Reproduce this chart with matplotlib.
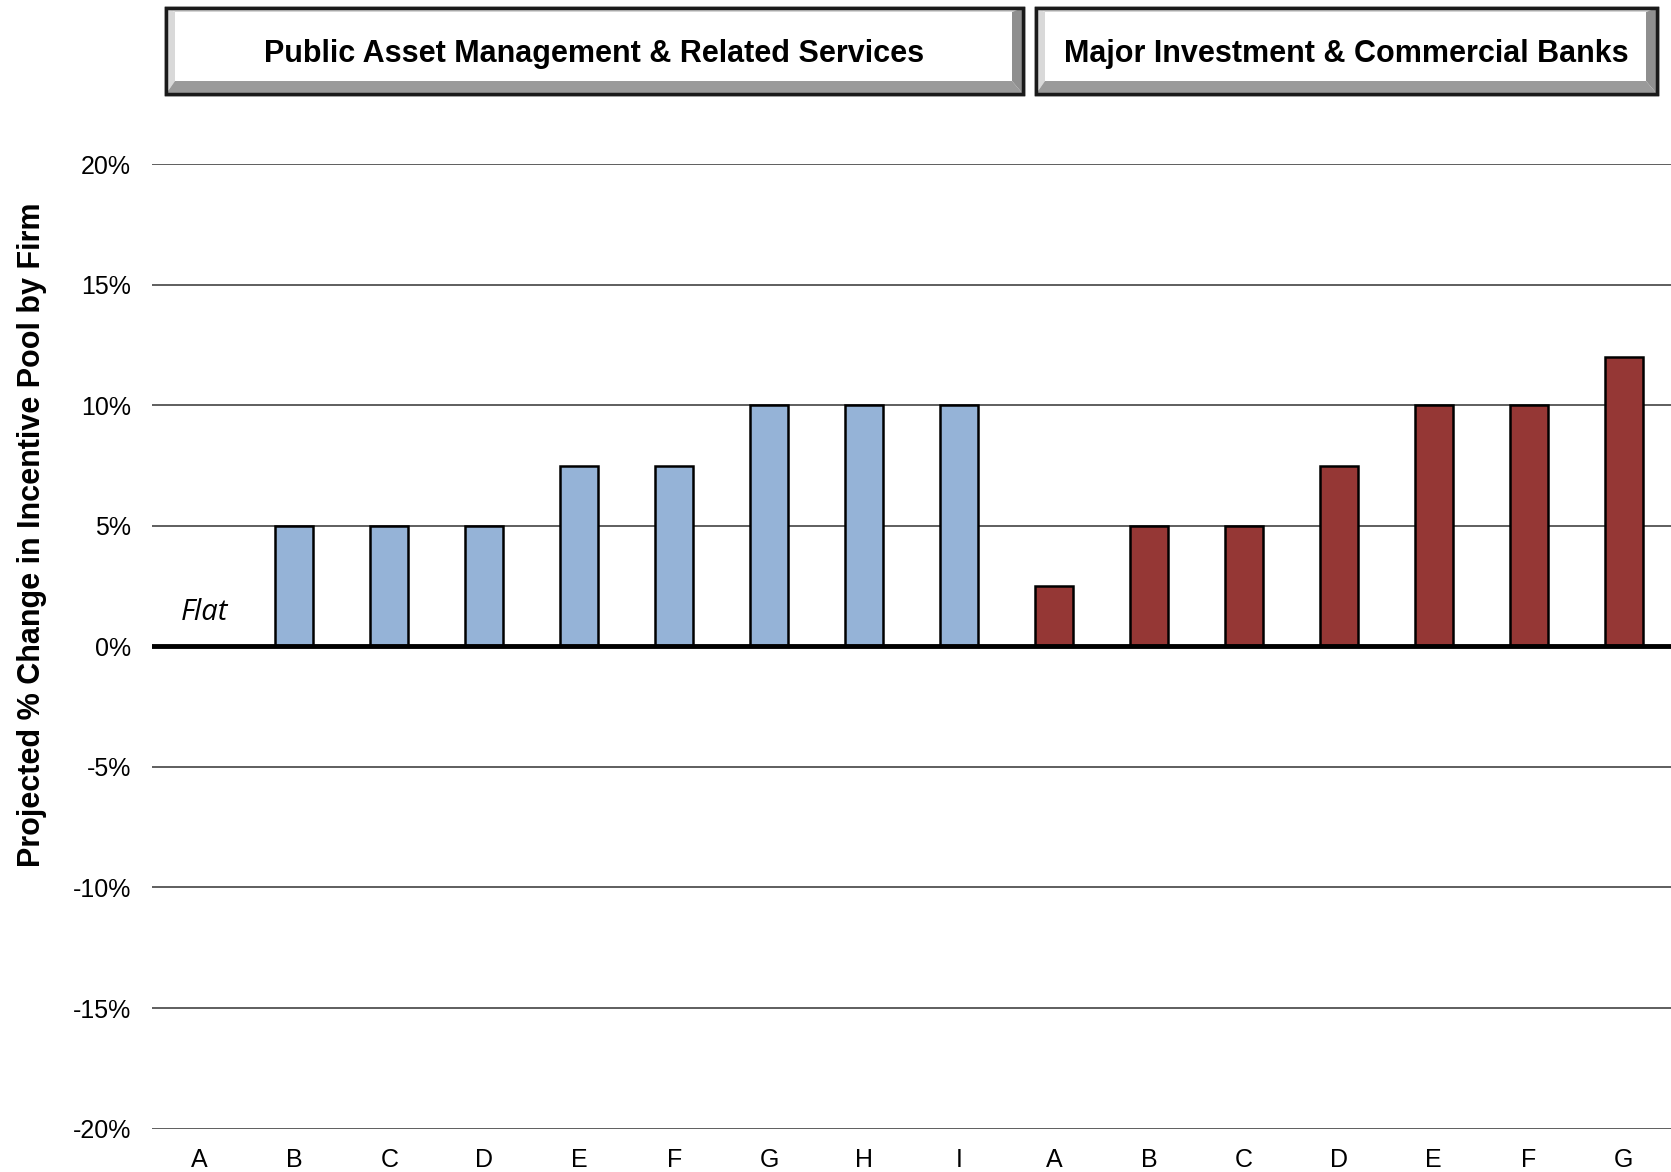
import numpy as np
import matplotlib
matplotlib.use('Agg')
import matplotlib.pyplot as plt
from matplotlib.patches import Polygon

plt.rcParams['font.family'] = ['Liberation Sans', 'DejaVu Sans']

# data
pub_labels = ['A', 'B', 'C', 'D', 'E', 'F', 'G', 'H', 'I']
pub_values = [0, 5, 5, 5, 7.5, 7.5, 10, 10, 10]
bank_labels = ['A', 'B', 'C', 'D', 'E', 'F', 'G']
bank_values = [2.5, 5, 5, 7.5, 10, 10, 12]
group_titles = ['Public Asset Management & Related Services', 'Major Investment & Commercial Banks']
yticks = [-20, -15, -10, -5, 0, 5, 10, 15, 20]

blue = '#95B3D7'
red = '#953735'

W, H = 1671, 1172
fig = plt.figure(figsize=(W / 100, H / 100), dpi=100)
ax = fig.add_axes([0.091, 0.037, 0.909, 0.823])

x_pub = np.arange(len(pub_labels))
x_bank = np.arange(len(bank_labels)) + len(pub_labels)

ax.bar(x_pub[1:], pub_values[1:], width=0.4, color=blue, edgecolor='black', linewidth=1.8, zorder=3)
ax.bar(x_bank, bank_values, width=0.4, color=red, edgecolor='black', linewidth=1.8, zorder=3)

ax.text(x_pub[0] + 0.05, 1.42, 'Flat', fontsize=21, style='italic', family=['Open Sans', 'DejaVu Sans'],
        ha='center', va='center')

ax.set_xlim(-0.5, len(pub_labels) + len(bank_labels) - 0.5)
ax.set_ylim(-20, 20)
ax.set_yticks(yticks)
ax.set_yticklabels([f'{v}%' for v in yticks], fontsize=18)
for v in yticks:
    if v != 0:
        ax.axhline(v, color='#333333', linewidth=1.1, zorder=1)
ax.axhline(0, color='black', linewidth=3.5, zorder=4)

ax.set_xticks(np.concatenate([x_pub, x_bank]))
ax.set_xticklabels(pub_labels + bank_labels, fontsize=18)
ax.tick_params(length=0)
ax.tick_params(axis='x', pad=14)
ax.tick_params(axis='y', pad=15)
for s in ax.spines.values():
    s.set_visible(False)

# y label sits higher than the axes centre in the original
fig.text(32 / W, 1 - 535 / H, 'Projected % Change in Incentive Pool by Firm', fontsize=22,
         fontweight='bold', rotation=90, ha='center', va='center')


def px(x, y):
    return (x / W, 1 - y / H)


def header_box(x0, y0, x1, y1, title):
    # bevelled button-like box, pixel coords from the top-left
    bl, bt, br, bb = 9, 4, 11, 13
    outer = [px(x0, y0), px(x1, y0), px(x1, y1), px(x0, y1)]
    fig.patches.append(Polygon(outer, closed=True, transform=fig.transFigure,
                               facecolor='white', edgecolor='#1a1a1a', linewidth=2.5, zorder=1))
    ix0, iy0, ix1, iy1 = x0 + bl, y0 + bt, x1 - br, y1 - bb
    sides = [
        ([px(x0, y0), px(x1, y0), px(ix1, iy0), px(ix0, iy0)], '#d4d4d4'),   # top
        ([px(x0, y0), px(ix0, iy0), px(ix0, iy1), px(x0, y1)], '#d9d9d9'),   # left
        ([px(x1, y0), px(x1, y1), px(ix1, iy1), px(ix1, iy0)], '#8f8f8f'),   # right
        ([px(x0, y1), px(ix0, iy1), px(ix1, iy1), px(x1, y1)], '#9a9a9a'),   # bottom
    ]
    for pts, c in sides:
        fig.patches.append(Polygon(pts, closed=True, transform=fig.transFigure,
                                   facecolor=c, edgecolor='none', zorder=2))
    fig.patches.append(Polygon(outer, closed=True, transform=fig.transFigure,
                               facecolor='none', edgecolor='#1a1a1a', linewidth=2.5, zorder=3))
    cx, cy = px((x0 + x1) / 2, (y0 + y1) / 2 + 3)
    fig.text(cx, cy, title, fontsize=22, fontweight='bold', ha='center', va='center', zorder=4)


header_box(166, 8, 1023, 94, group_titles[0])
header_box(1036, 8, 1657, 94, group_titles[1])

fig.savefig('out.png', dpi=100)
